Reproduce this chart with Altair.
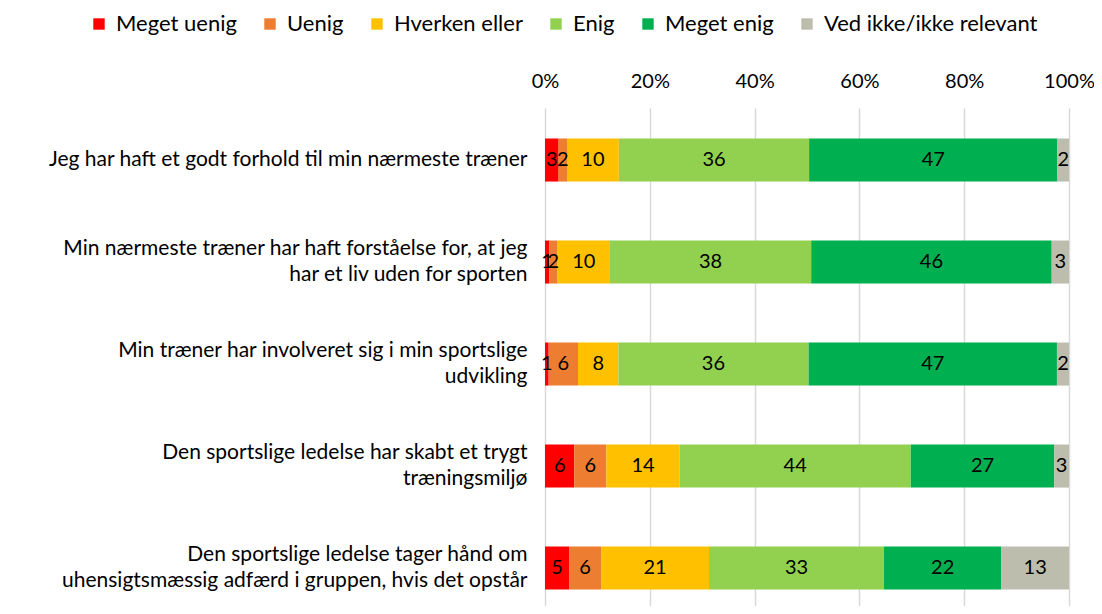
import altair as alt
import pandas as pd

questions = [
    "Jeg har haft et godt forhold til min nærmeste træner",
    "Min nærmeste træner har haft forståelse for, at jeg|har et liv uden for sporten",
    "Min træner har involveret sig i min sportslige|udvikling",
    "Den sportslige ledelse har skabt et trygt|træningsmiljø",
    "Den sportslige ledelse tager hånd om|uhensigtsmæssig adfærd i gruppen, hvis det opstår",
]
categories = ["Meget uenig", "Uenig", "Hverken eller", "Enig", "Meget enig", "Ved ikke/ikke relevant"]
colors = ["#FF0000", "#ED7D31", "#FFC000", "#92D050", "#00B050", "#BDBDAE"]

meget_uenig = [2.6, 0.8, 0.7, 5.6, 4.6]
uenig = [1.6, 1.6, 5.6, 6.1, 6.1]
hverken_eller = [9.9, 10.0, 7.7, 14.0, 20.6]
enig = [36.3, 38.4, 36.3, 44.1, 33.4]
meget_enig = [47.4, 45.9, 47.4, 27.4, 22.4]
ved_ikke = [2.2, 3.3, 2.3, 2.8, 12.9]

series = [meget_uenig, uenig, hverken_eller, enig, meget_enig, ved_ikke]
rows = []
for ci, (cat, vals) in enumerate(zip(categories, series)):
    for q, v in zip(questions, vals):
        rows.append({"q": q, "cat": cat, "order": ci, "value": v})
df = pd.DataFrame(rows)

FONT = "Lato"

base = alt.Chart(df).transform_stack(
    stack="value", groupby=["q"], as_=["x0", "x1"],
    sort=[alt.SortField("order", order="ascending")],
).transform_calculate(mid="(datum.x0 + datum.x1) / 2")

y = alt.Y(
    "q:N", sort=questions, title=None,
    scale=alt.Scale(paddingInner=0.578, paddingOuter=0.23, align=0.65),
    axis=alt.Axis(labelExpr="split(datum.label, '|')", labelFontSize=21, labelFont=FONT,
                  labelColor="#000000", labelPadding=18, labelLineHeight=26,
                  labelOffset={"condition": {"test": "indexof(datum.value, '|') >= 0", "value": -13},
                               "value": 0},
                  domain=False, ticks=False, labelLimit=600),
)

bars = base.mark_bar().encode(
    x=alt.X("x0:Q", title=None,
            scale=alt.Scale(domain=[0, 100], nice=False),
            axis=alt.Axis(orient="top", values=[0, 20, 40, 60, 80, 100],
                          labelExpr="datum.value + '%'", ticks=False, domain=False,
                          labelFlush=False, labelOverlap=False,
                          grid=True, gridColor="#D9D9D9", gridWidth=1.5,
                          labelFontSize=20, labelFont=FONT, labelColor="#000000",
                          labelPadding=17)),
    x2="x1:Q",
    y=y,
    color=alt.Color("cat:N", sort=categories,
                    scale=alt.Scale(domain=categories, range=colors),
                    legend=alt.Legend(title=None, orient="none", direction="horizontal",
                                      legendX=-457, legendY=-95, symbolType="square",
                                      symbolSize=130, symbolStrokeWidth=0,
                                      labelFontSize=22, labelFont=FONT, labelColor="#000000",
                                      columnPadding=22, labelOffset=6, padding=0,
                                      labelLimit=400)),
    order=alt.Order("order:Q"),
)

labels = base.mark_text(fontSize=20, font=FONT, color="#000000").encode(
    x=alt.X("mid:Q"),
    y=alt.Y("q:N", sort=questions),
    text=alt.Text("value:Q", format=".0f"),
)

chart = alt.layer(bars, labels).properties(
    width=524, height=498,
    padding={"left": 537, "top": 100, "right": 25, "bottom": 0},
    autosize=alt.AutoSizeParams(type="none"),
).configure_view(stroke=None)

chart.save("out.html", embed_options={"renderer": "svg", "actions": False})
